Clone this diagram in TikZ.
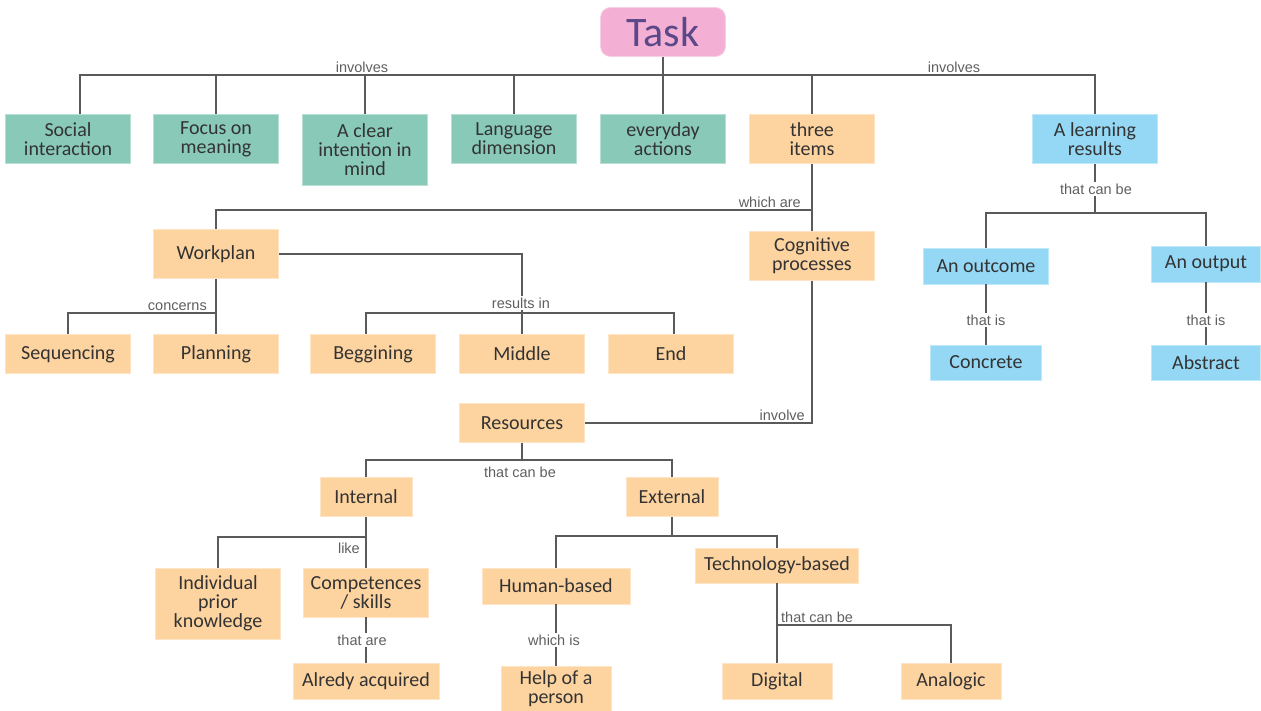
\documentclass[tikz,border=0pt]{standalone}
\usepackage{fontspec}
\setmainfont{Carlito}
\newfontfamily\lblfont{Liberation Sans}
\usepackage{tikz}
\usetikzlibrary{calc}
\definecolor{grn}{HTML}{89C9B8}
\definecolor{orn}{HTML}{FDD39F}
\definecolor{blu}{HTML}{95D8F5}
\definecolor{pnk}{HTML}{F4B0D4}
\definecolor{taskclr}{HTML}{5A4888}
\definecolor{txtclr}{HTML}{333333}
\definecolor{lnclr}{HTML}{5A5A5A}
\definecolor{lblclr}{HTML}{5F5F5F}
\tikzset{
  box/.style={draw=#1!60!white,line width=0.8pt,fill=#1,minimum width=125pt,minimum height=49pt,inner sep=1pt,align=center,text=txtclr,font=\fontsize{20}{19}\selectfont},
  box/.default={orn},
  ln/.style={draw=lnclr,line width=2.2pt},
  lbl/.style={font=\lblfont\fontsize{14.5}{16}\selectfont,text=lblclr,inner sep=1pt},
  lblw/.style={lbl,fill=white,inner sep=2pt},
}
\begin{document}
\begin{tikzpicture}[x=1pt,y=-1pt]
 \useasboundingbox (0,0) rectangle (1261,711);
 % top level
 \node[box=pnk,rounded corners=10pt,text=taskclr,font=\fontsize{42}{44}\selectfont] (task) at (663,32) {Task};
 \node[box=grn] (social) at (68,139) {Social\\interaction};
 \node[box=grn] (focus) at (216,139) {Focus on\\meaning};
 \node[box=grn,minimum height=71pt] (clear) at (365,149.5) {A clear\\intention in\\mind};
 \node[box=grn] (lang) at (514,139) {Language\\dimension};
 \node[box=grn] (every) at (663,139) {everyday\\actions};
 \node[box] (three) at (812,139) {three\\items};
 \node[box=blu] (learn) at (1095,139) {A learning\\results};
 % three items
 \node[box] (workplan) at (216,254) {Workplan};
 \node[box] (cog) at (812,256) {Cognitive\\processes};
 \node[box,minimum height=39pt] (seq) at (68,354) {Sequencing};
 \node[box,minimum height=39pt] (plan) at (216,354) {Planning};
 \node[box,minimum height=39pt] (beg) at (373,354) {Beggining};
 \node[box,minimum height=39pt] (mid) at (522,354) {Middle};
 \node[box,minimum height=39pt] (fin) at (671,354) {End};
 \node[box,minimum height=39pt] (res) at (522,423) {Resources};
 \node[box,minimum width=92pt,minimum height=39pt] (int) at (366,497) {Internal};
 \node[box,minimum width=92pt,minimum height=39pt] (ext) at (672,497) {External};
 \node[box,minimum height=71pt] (indiv) at (218,603.5) {Individual\\prior\\knowledge};
 \node[box] (comp) at (366,592.5) {Competences\\/ skills};
 \node[box,minimum width=146pt,minimum height=36pt] (acq) at (366,681) {Alredy acquired};
 \node[box,minimum width=148pt,minimum height=36pt] (human) at (556,586) {Human-based};
 \node[box,minimum width=163pt,minimum height=35pt] (tech) at (777,565.5) {Technology-based};
 \node[box,minimum width=110pt,minimum height=46pt] (help) at (556,689) {Help of a\\person};
 \node[box,minimum width=110pt,minimum height=36pt] (digital) at (777,681) {Digital};
 \node[box,minimum width=100pt,minimum height=36pt] (analog) at (951,681) {Analogic};
 % learning results
 \node[box=blu,minimum height=36pt] (outcome) at (986,266) {An outcome};
 \node[box=blu,minimum width=109pt,minimum height=36pt] (output) at (1206,264) {An output};
 \node[box=blu,minimum width=111pt,minimum height=35pt] (concrete) at (986,362.5) {Concrete};
 \node[box=blu,minimum width=109pt,minimum height=35pt] (abstract) at (1206,362.5) {Abstract};
 % bus heights
 \coordinate (topbus) at (0,75);
 \coordinate (whichbus) at (0,210);
 \coordinate (concbus) at (0,313);
 \coordinate (resbus) at (0,313);
 \coordinate (canbus) at (0,460);
 \coordinate (likebus) at (0,537);
 \coordinate (extbus) at (0,536);
 \coordinate (techbus) at (0,625);
 \coordinate (learnbus) at (0,213);
 % connectors
 \draw[ln] (task) -- (task |- topbus);
 \draw[ln] ([xshift=12pt]social.north) |- (topbus -| learn.north) -- (learn.north);
 \foreach \n in {focus,clear,lang,every,three}
   \draw[ln] (\n.north) -- (\n.north |- topbus);
 \draw[ln] (three) -- (cog);
 \draw[ln] (workplan.north) |- (whichbus -| three.south);
 \draw[ln] (workplan) -- (plan);
 \draw[ln] (seq.north) |- (concbus -| plan.north);
 \draw[ln] (workplan.east) -| (mid.north);
 \draw[ln] ([xshift=-7pt]beg.north) |- ([xshift=3pt]resbus -| fin.north) -- ([xshift=3pt]fin.north);
 \draw[ln] (cog.south) |- (res.east);
 \draw[ln] (res) -- (res |- canbus);
 \draw[ln] (int.north) |- (canbus -| ext.north) -- (ext.north);
 \draw[ln] (int) -- (comp);
 \draw[ln] (indiv.north) |- (likebus -| comp.north);
 \draw[ln] (comp) -- (acq);
 \draw[ln] (ext) -- (ext |- extbus);
 \draw[ln] (human.north) |- (extbus -| tech.north) -- (tech.north);
 \draw[ln] (human) -- (help);
 \draw[ln] (tech) -- (digital);
 \draw[ln] (digital.north |- techbus) -| (analog.north);
 \draw[ln] (learn) -- (learn |- learnbus);
 \draw[ln] (outcome.north) |- (learnbus -| output.north) -- (output.north);
 \draw[ln] (outcome) -- (concrete);
 \draw[ln] (output) -- (abstract);
 % connector labels
 \node[lbl,anchor=south] (inv1) at (362,74) {involves};
 \node[lbl,anchor=south] (inv2) at (954,74) {involves};
 \node[lbl,anchor=south east] (whichare) at (802,209) {which are};
 \node[lbl,anchor=south east] (concerns) at (208,312) {concerns};
 \node[lblw] (resultsin) at (521,303) {results in};
 \node[lbl,anchor=south east] (involve) at (806,422) {involve};
 \node[lbl,anchor=north] (canbe1) at (520,466) {that can be};
 \node[lbl,anchor=north east] (like) at (361,542) {like};
 \node[lblw] (thatare) at (362,640) {that are};
 \node[lblw] (whichis) at (554,640) {which is};
 \node[lbl,anchor=south west] (canbe2) at (780,624) {that can be};
 \node[lblw] (canbe3) at (1096,189) {that can be};
 \node[lblw] (thatis1) at (986,320) {that is};
 \node[lblw] (thatis2) at (1206,320) {that is};
\end{tikzpicture}
\end{document}
